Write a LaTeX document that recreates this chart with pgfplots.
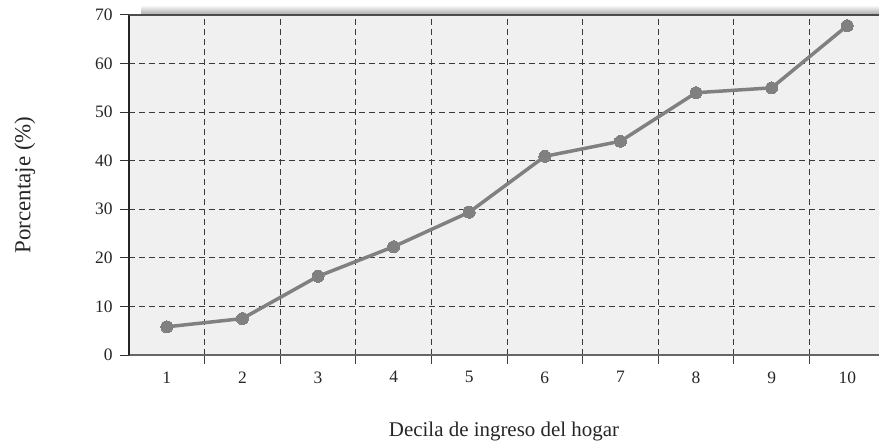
\documentclass[border=0pt]{standalone}
\usepackage{fontspec}
\setmainfont{Liberation Serif}
\usepackage{pgfplots}
\pgfplotsset{compat=1.18}
\definecolor{bgc}{HTML}{F0F0F0}
\definecolor{linec}{HTML}{808080}
\definecolor{gridc}{HTML}{3A3A3A}
\begin{document}
\begin{tikzpicture}
\path[use as bounding box] (-129bp,-86bp) rectangle (750bp,355bp);
\fill[top color=white,bottom color=black!35] (12bp,340bp) rectangle (750bp,350bp);
\begin{axis}[
  at={(0,0)}, anchor=south west,
  scale only axis, width=750bp, height=340bp,
  xmin=0.5, xmax=10.42, ymin=0, ymax=70,
  axis background/.style={fill=bgc},
  axis x line*=bottom, axis y line*=left,
  x axis line style={draw=black!60, line width=1.5pt, -},
  y axis line style={draw=black!85, line width=1.2pt, -},
  xtick={1,...,10},
  major x tick style={draw=none},
  minor xtick={1.5,2.5,...,9.5},
  minor x tick style={draw=black!75, line width=1pt},
  minor tick length=9bp,
  xminorgrids=true,
  minor x grid style={dash pattern=on 6bp off 4bp, draw=gridc, line width=1pt},
  ytick={0,10,...,70},
  ymajorgrids=true,
  major y grid style={dash pattern=on 6bp off 4bp, draw=gridc, line width=1pt},
  major tick length=9bp,
  tick align=outside,
  y tick style={draw=black!80, line width=1pt},
  tick label style={font=\fontsize{17.5}{20}\selectfont, text=black!85},
  /pgf/number format/assume math mode=true,
  xticklabel style={yshift=-4bp},
  yticklabel style={xshift=-4bp},
  xlabel={Decila de ingreso del hogar},
  ylabel={Porcentaje (\%)},
  xlabel style={font=\fontsize{21}{24}\selectfont, text=black!85, at={(axis description cs:0.5,-0.226)}, anchor=center},
  ylabel style={font=\fontsize{23}{26}\selectfont, text=black!85, at={(axis description cs:-0.139,0.5)}, anchor=center},
  clip=false,
]
\draw[draw=black!70, line width=1.2pt] (axis cs:0.5,70) -- (axis cs:10.42,70);
\addplot[color=linec, line width=3.5pt, mark=*, mark size=6bp, mark options={fill=linec, draw=linec, line width=0pt}]
coordinates {(1,5.8) (2,7.5) (3,16.2) (4,22.3) (5,29.4) (6,40.9) (7,44.0) (8,54.0) (9,55.0) (10,67.8)};
\end{axis}
\end{tikzpicture}
\end{document}
